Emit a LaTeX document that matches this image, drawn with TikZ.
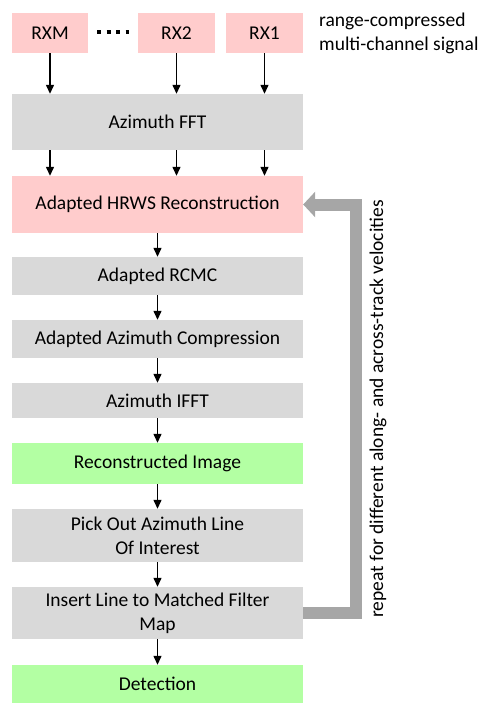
\documentclass[tikz,border=0pt]{standalone}
\usepackage{fontspec}
\setmainfont{Carlito}
\usetikzlibrary{arrows.meta}
\definecolor{pinkbox}{HTML}{FFCCCC}
\definecolor{graybox}{HTML}{D9D9D9}
\definecolor{greenbox}{HTML}{B3FFA3}
\definecolor{loopgray}{HTML}{A6A6A6}
\begin{document}
\begin{tikzpicture}[x=1pt,y=-1pt,
  box/.style={rectangle, inner sep=0pt, align=center, font=\fontsize{19.5}{24}\selectfont},
  wide/.style={box, minimum width=291pt},
  pinkb/.style={fill=pinkbox},
  grayb/.style={fill=graybox},
  greenb/.style={fill=greenbox},
  arr/.style={-{Triangle[width=8pt,length=9pt]}, line width=1.3pt, black},
  loop/.style={line width=12pt, loopgray, line join=miter, -{Triangle[width=25pt,length=12pt]}}
]
\useasboundingbox (0,0) rectangle (481,704);
% top receivers
\node[box,pinkb,minimum width=76pt,minimum height=40pt] (rxm) at (50,33) {RXM};
\node[box,pinkb,minimum width=77pt,minimum height=40pt] (rx2) at (176.5,33) {RX2};
\node[box,pinkb,minimum width=77pt,minimum height=40pt] (rx1) at (264.5,33) {RX1};
\draw[line width=4pt, dash pattern=on 4pt off 5.5pt] ([xshift=9pt,yshift=1pt]rxm.east) -- ([xshift=-9pt,yshift=1pt]rx2.west);
\node[box,anchor=west,align=left] (lbl) at (319,33) {range-compressed\\multi-channel signal};
% main chain
\node[wide,grayb,minimum height=56pt] (fft) at (157.5,122) {Azimuth FFT};
\node[wide,pinkb,minimum height=57pt] (hrws) at (157.5,204.5) {Adapted HRWS Reconstruction};
\node[wide,grayb,minimum height=38pt] (rcmc) at (157.5,276) {Adapted RCMC};
\node[wide,grayb,minimum height=38pt] (azc) at (157.5,339) {Adapted Azimuth Compression};
\node[wide,grayb,minimum height=35pt] (ifft) at (157.5,400.5) {Azimuth IFFT};
\node[wide,greenb,minimum height=41pt] (rec) at (157.5,463.5) {Reconstructed Image};
\node[wide,grayb,minimum height=53pt] (pick) at (157.5,535.5) {Pick Out Azimuth Line\\Of Interest};
\node[wide,grayb,minimum height=52pt] (ins) at (157.5,613) {Insert Line to Matched Filter\\Map};
\node[wide,greenb,minimum height=38pt] (det) at (157.5,684) {Detection};
% arrows
\foreach \r in {rxm,rx2,rx1}{
  \draw[arr] (\r.south) -- (\r.south |- fft.north);
  \draw[arr] (fft.south -| \r.south) -- (hrws.north -| \r.south);
}
\draw[arr] (hrws) -- (rcmc);
\draw[arr] (rcmc) -- (azc);
\draw[arr] (azc) -- (ifft);
\draw[arr] (ifft) -- (rec);
\draw[arr] (rec) -- (pick);
\draw[arr] (pick) -- (ins);
\draw[arr] (ins) -- (det);
% feedback loop
\coordinate (lb) at (356,613);
\coordinate (lt) at (356,204.5);
\draw[loop] (ins.east) -- (lb) -- (lt) -- (hrws.east);
\node[box,rotate=90] (rep) at (378,409) {repeat for different along- and across-track velocities};
\end{tikzpicture}
\end{document}
